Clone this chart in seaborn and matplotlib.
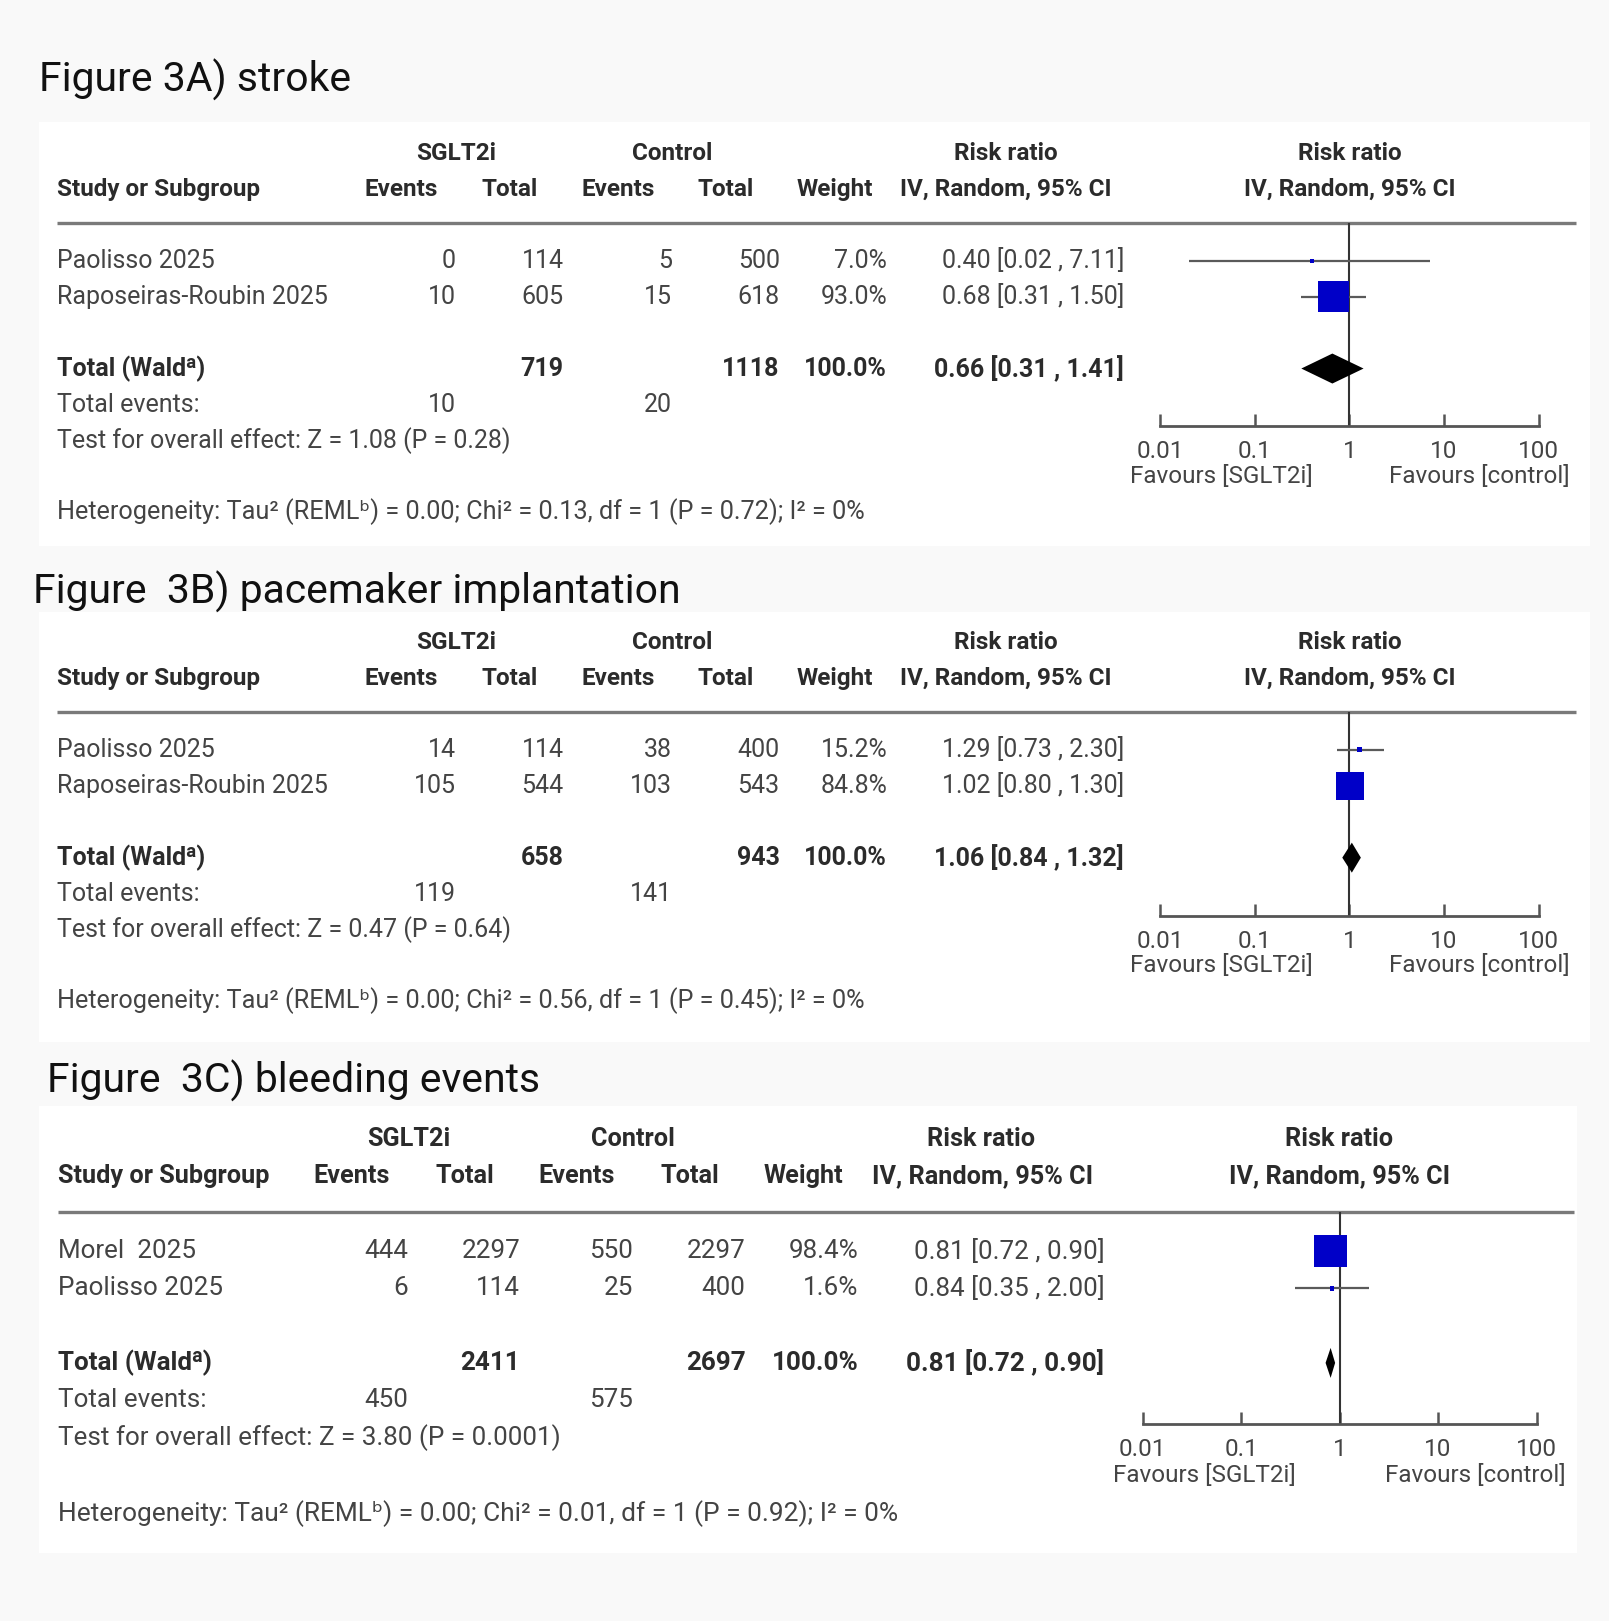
import numpy as np
import matplotlib
matplotlib.use("Agg")
import matplotlib.pyplot as plt
from matplotlib.patches import Rectangle
import seaborn as sns

sns.set_theme(style="white")
plt.rcParams['font.family'] = ['Roboto', 'DejaVu Sans']

# ------------------------------------------------------------------ data
titles = ["Figure 3A) stroke", "Figure  3B) pacemaker implantation", "Figure  3C) bleeding events"]

a_studies = ["Paolisso 2025", "Raposeiras-Roubin 2025"]
a_sg_events = [0, 10]
a_sg_total = [114, 605]
a_ct_events = [5, 15]
a_ct_total = [500, 618]
a_weight = [7.0, 93.0]
a_rr = [0.40, 0.68]
a_lo = [0.02, 0.31]
a_hi = [7.11, 1.50]
a_pooled = [0.66, 0.31, 1.41]
a_totals = [719, 1118]
a_total_events = [10, 20]
a_test = "Test for overall effect: Z = 1.08 (P = 0.28)"
a_het = "Heterogeneity: Tau\u00b2 (REML\u1d47) = 0.00; Chi\u00b2 = 0.13, df = 1 (P = 0.72); I\u00b2 = 0%"

b_studies = ["Paolisso 2025", "Raposeiras-Roubin 2025"]
b_sg_events = [14, 105]
b_sg_total = [114, 544]
b_ct_events = [38, 103]
b_ct_total = [400, 543]
b_weight = [15.2, 84.8]
b_rr = [1.29, 1.02]
b_lo = [0.73, 0.80]
b_hi = [2.30, 1.30]
b_pooled = [1.06, 0.84, 1.32]
b_totals = [658, 943]
b_total_events = [119, 141]
b_test = "Test for overall effect: Z = 0.47 (P = 0.64)"
b_het = "Heterogeneity: Tau\u00b2 (REML\u1d47) = 0.00; Chi\u00b2 = 0.56, df = 1 (P = 0.45); I\u00b2 = 0%"

c_studies = ["Morel  2025", "Paolisso 2025"]
c_sg_events = [444, 6]
c_sg_total = [2297, 114]
c_ct_events = [550, 25]
c_ct_total = [2297, 400]
c_weight = [98.4, 1.6]
c_rr = [0.81, 0.84]
c_lo = [0.72, 0.35]
c_hi = [0.90, 2.00]
c_pooled = [0.81, 0.72, 0.90]
c_totals = [2411, 2697]
c_total_events = [450, 575]
c_test = "Test for overall effect: Z = 3.80 (P = 0.0001)"
c_het = "Heterogeneity: Tau\u00b2 (REML\u1d47) = 0.00; Chi\u00b2 = 0.01, df = 1 (P = 0.92); I\u00b2 = 0%"

tick_vals = [0.01, 0.1, 1, 10, 100]
tick_labels = ["0.01", "0.1", "1", "10", "100"]
fav_labels = ["Favours [SGLT2i]", "Favours [control]"]
group_hdr = ["SGLT2i", "Control", "Risk ratio", "Risk ratio"]
col_hdr = ["Events", "Total", "Events", "Total", "Weight", "IV, Random, 95% CI", "IV, Random, 95% CI"]

panels = [
    dict(title=titles[0], studies=a_studies, se=a_sg_events, st=a_sg_total, ce=a_ct_events,
         ct=a_ct_total, w=a_weight, rr=a_rr, lo=a_lo, hi=a_hi, pooled=a_pooled,
         totals=a_totals, tev=a_total_events, test=a_test, het=a_het),
    dict(title=titles[1], studies=b_studies, se=b_sg_events, st=b_sg_total, ce=b_ct_events,
         ct=b_ct_total, w=b_weight, rr=b_rr, lo=b_lo, hi=b_hi, pooled=b_pooled,
         totals=b_totals, tev=b_total_events, test=b_test, het=b_het),
    dict(title=titles[2], studies=c_studies, se=c_sg_events, st=c_sg_total, ce=c_ct_events,
         ct=c_ct_total, w=c_weight, rr=c_rr, lo=c_lo, hi=c_hi, pooled=c_pooled,
         totals=c_totals, tev=c_total_events, test=c_test, het=c_het),
]

# ------------------------------------------------------------------ layout (reference units)
W, H = 1556.0, 1621 * 1556.0 / 1609
layouts = [
    dict(title_xy=(38, 77), rect=(38, 118, 1538, 528), row0=252, pitch=34.8, line=(55, 1524, 216),
         grp_x=[441, 650, 973, 1305], hy1=148, hy2=183, name_x=55,
         hdr_x=[388, 493, 598, 702, 807, 973, 1305],
         num_x=[441, 545, 650, 754, 858, 1087], fx=(1122, 1488), axis_y=412,
         fav_x=(1181, 1431), fav_y=461, het_y=495, fsz=18, hsz=17.5, hetsz=18.2),
    dict(title_xy=(32, 572), rect=(38, 592, 1538, 1008), row0=725, pitch=34.8, line=(55, 1524, 689),
         grp_x=[441, 650, 973, 1305], hy1=621, hy2=656, name_x=55,
         hdr_x=[388, 493, 598, 702, 807, 973, 1305],
         num_x=[441, 545, 650, 754, 858, 1087], fx=(1122, 1488), axis_y=886,
         fav_x=(1181, 1431), fav_y=934, het_y=968, fsz=18, hsz=17.5, hetsz=18.2),
    dict(title_xy=(45, 1045), rect=(38, 1070, 1525, 1502), row0=1210, pitch=36.0, line=(56, 1522, 1172),
         grp_x=[395, 612, 949, 1295], hy1=1101, hy2=1137, name_x=56,
         hdr_x=[340, 450, 558, 667, 777, 950, 1295],
         num_x=[395, 503, 612, 721, 830, 1068], fx=(1105, 1486), axis_y=1377,
         fav_x=(1165, 1427), fav_y=1427, het_y=1464, fsz=18.7, hsz=18.2, hetsz=18.9),
]

TXT = '#444444'
HDR = '#2b2b2b'
BLUE = '#0000c8'

fig = plt.figure(figsize=(16.09, 16.21), dpi=100, facecolor='#f9f9f9')
bg = fig.add_axes([0, 0, 1, 1])
bg.set_xlim(0, W)
bg.set_ylim(H, 0)
bg.axis('off')

for p, L in zip(panels, layouts):
    x0, y0, x1, y1 = L['rect']
    bg.add_patch(Rectangle((x0, y0), x1 - x0, y1 - y0, facecolor='white', edgecolor='none', zorder=0))
    bg.text(L['title_xy'][0], L['title_xy'][1], p['title'], fontsize=29.4, color='#111111',
            ha='left', va='center')
    fsz, hsz = L['fsz'], L['hsz']
    # headers
    for lab, gx in zip(group_hdr, L['grp_x']):
        bg.text(gx, L['hy1'], lab, fontsize=hsz, fontweight='bold', color=HDR, ha='center', va='center')
    bg.text(L['name_x'], L['hy2'], "Study or Subgroup", fontsize=hsz, fontweight='bold', color=HDR,
            ha='left', va='center')
    for lab, hx in zip(col_hdr, L['hdr_x']):
        bg.text(hx, L['hy2'], lab, fontsize=hsz, fontweight='bold', color=HDR, ha='center', va='center')
    lx0, lx1, ly = L['line']
    bg.plot([lx0, lx1], [ly, ly], color='#7a7a7a', lw=2.4, solid_capstyle='butt')

    row = lambda k: L['row0'] + k * L['pitch']
    nx = L['num_x']
    # study rows
    for i, name in enumerate(p['studies']):
        y = row(i)
        bg.text(L['name_x'], y, name, fontsize=fsz, color=TXT, ha='left', va='center')
        vals = [str(p['se'][i]), str(p['st'][i]), str(p['ce'][i]), str(p['ct'][i]),
                f"{p['w'][i]:.1f}%", f"{p['rr'][i]:.2f} [{p['lo'][i]:.2f} , {p['hi'][i]:.2f}]"]
        for v, x in zip(vals, nx):
            bg.text(x, y, v, fontsize=fsz, color=TXT, ha='right', va='center')
    # total row
    y = row(3)
    bg.text(L['name_x'], y, "Total (Wald\u1d43)", fontsize=fsz, fontweight='bold', color=HDR,
            ha='left', va='center')
    pr = p['pooled']
    for v, x in zip([str(p['totals'][0]), str(p['totals'][1]), "100.0%",
                     f"{pr[0]:.2f} [{pr[1]:.2f} , {pr[2]:.2f}]"], [nx[1], nx[3], nx[4], nx[5]]):
        bg.text(x, y, v, fontsize=fsz, fontweight='bold', color=HDR, ha='right', va='center')
    y = row(4)
    bg.text(L['name_x'], y, "Total events:", fontsize=fsz, color=TXT, ha='left', va='center')
    bg.text(nx[0], y, str(p['tev'][0]), fontsize=fsz, color=TXT, ha='right', va='center')
    bg.text(nx[2], y, str(p['tev'][1]), fontsize=fsz, color=TXT, ha='right', va='center')
    bg.text(L['name_x'], row(5), p['test'], fontsize=fsz, color=TXT, ha='left', va='center')
    bg.text(L['name_x'], L['het_y'], p['het'], fontsize=L['hetsz'], color=TXT, ha='left', va='center')
    # favours labels
    bg.text(L['fav_x'][0], L['fav_y'], fav_labels[0], fontsize=17.5, color=TXT, ha='center', va='center')
    bg.text(L['fav_x'][1], L['fav_y'], fav_labels[1], fontsize=17.5, color=TXT, ha='center', va='center')

    # forest axes
    fx0, fx1 = L['fx']
    ay = L['axis_y']
    fax = fig.add_axes([fx0 / W, 1 - ay / H, (fx1 - fx0) / W, (ay - ly) / H])
    fax.set_facecolor('none')
    fax.set_xscale('log')
    fax.set_xlim(tick_vals[0], tick_vals[-1])
    fax.set_ylim((ay - L['row0']) / L['pitch'], (ly - L['row0']) / L['pitch'])
    rows = np.arange(len(p['studies']))
    fax.hlines(rows, p['lo'], p['hi'], color='#5a5a5a', lw=1.6, zorder=2)
    side_px = np.maximum(4.0, 0.32 * np.array(p['w']))
    s_pt = (side_px * 1609 / 1556 * 0.72) ** 2
    sns.scatterplot(x=p['rr'], y=rows, s=s_pt, marker='s', color=BLUE, linewidth=0,
                    legend=False, ax=fax, zorder=3)
    dh = 14.5 / L['pitch']
    fax.fill([pr[1], pr[0], pr[2], pr[0]], [3, 3 - dh, 3, 3 + dh], color='black', zorder=3, lw=0)
    fax.axvline(1, color='#333333', lw=1.5, zorder=1)
    for s in ['top', 'right', 'left']:
        fax.spines[s].set_visible(False)
    fax.spines['bottom'].set_color('#555555')
    fax.spines['bottom'].set_linewidth(2.0)
    fax.set_xticks(tick_vals)
    fax.set_xticklabels(tick_labels)
    fax.xaxis.set_minor_locator(matplotlib.ticker.NullLocator())
    fax.tick_params(axis='x', direction='in', length=9, width=1.8, color='#555555',
                    labelsize=17.5, labelcolor=TXT, pad=10, bottom=True)
    fax.set_yticks([])
    fax.grid(False)

fig.savefig('out.png', dpi=100, facecolor=fig.get_facecolor())
